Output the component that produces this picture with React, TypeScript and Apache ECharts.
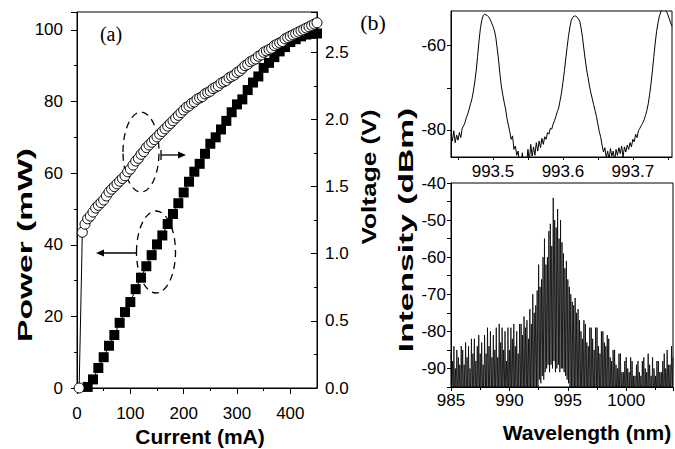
import React, { useEffect, useRef } from "react";
import * as echarts from "echarts";

// ---------- (a) L-I-V data ----------
const ivCurrent = [4, 10, 15, 20, 25, 30, 35, 40, 45, 50, 55, 60, 65, 70, 75, 80, 85, 90, 95, 100, 105,
  110, 115, 120, 125, 130, 135, 140, 145, 150, 155, 160, 165, 170, 175, 180, 185, 190, 195, 200, 205,
  210, 215, 220, 225, 230, 235, 240, 245, 250, 255, 260, 265, 270, 275, 280, 285, 290, 295, 300, 305,
  310, 315, 320, 325, 330, 335, 340, 345, 350, 355, 360, 365, 370, 375, 380, 385, 390, 395, 400, 405,
  410, 415, 420, 425, 430, 435, 440, 445, 450];
const ivVoltage = [0, 1.16, 1.22, 1.26, 1.28, 1.31, 1.34, 1.36, 1.38, 1.40, 1.43, 1.46, 1.48, 1.50, 1.52,
  1.54, 1.56, 1.58, 1.61, 1.63, 1.66, 1.69, 1.71, 1.74, 1.76, 1.79, 1.81, 1.83, 1.85, 1.87, 1.89,
  1.91, 1.93, 1.95, 1.97, 1.99, 2.01, 2.03, 2.05, 2.07, 2.09, 2.10, 2.12, 2.13, 2.15, 2.16, 2.17,
  2.19, 2.20, 2.21, 2.23, 2.24, 2.25, 2.27, 2.28, 2.29, 2.31, 2.32, 2.33, 2.35, 2.36, 2.38, 2.40,
  2.41, 2.43, 2.44, 2.45, 2.47, 2.48, 2.50, 2.51, 2.52, 2.53, 2.55, 2.56, 2.57, 2.58, 2.60, 2.61,
  2.62, 2.63, 2.64, 2.65, 2.66, 2.67, 2.68, 2.69, 2.70, 2.71, 2.72];

const liCurrent = [20, 30, 40, 50, 60, 70, 80, 90, 100, 110, 120, 130, 140, 150, 160, 170, 180, 190, 200,
  210, 220, 230, 240, 250, 260, 270, 280, 290, 300, 310, 320, 330, 340, 350, 360, 370, 380, 390, 400,
  410, 420, 430, 440, 450];
const liPower = [0.3, 2.4, 5.6, 8.6, 11.8, 14.8, 18.2, 21.2, 24.0, 27.6, 30.8, 34.0, 37.1, 40.1, 42.6,
  45.8, 48.6, 51.6, 54.6, 57.6, 60.4, 62.6, 65.4, 68.2, 70.0, 72.2, 74.6, 77.0, 79.2, 80.6, 83.2,
  85.3, 87.0, 89.4, 90.8, 92.4, 94.0, 95.2, 96.6, 97.4, 98.2, 98.7, 98.9, 99.0];

const powerTicks = [0, 20, 40, 60, 80, 100];
const voltageTicks = [0, 0.5, 1.0, 1.5, 2.0, 2.5];
const currentTicks = [0, 100, 200, 300, 400];

// ---------- (b) inset spectrum (0.002 nm sampling from 993.44 nm) ----------
const insetStart = 993.44;
const insetStep = 0.002;
const insetIntensity = [
  -81.0, -82.6, -80.2, -83.0, -81.2, -82.4, -80.6, -81.8, -79.6, -79.0,
  -78.2, -77.0, -76.2, -75.0, -73.8, -72.6, -70.8, -68.6, -66.0, -62.6,
  -59.0, -56.0, -54.0, -52.9, -52.6, -52.7, -52.9, -53.2, -53.8, -54.6,
  -55.4, -56.4, -58.0, -60.6, -63.4, -66.8, -69.6, -71.6, -73.4, -75.0,
  -77.2, -78.8, -80.4, -82.2, -81.4, -84.6, -83.8, -86.0, -85.0, -88.0,
  -89.0, -85.4, -88.5, -89.0, -88.0, -84.6, -87.5, -83.4, -86.2, -84.0,
  -86.0, -83.0, -85.0, -82.6, -84.2, -82.0, -83.4, -81.6, -82.2, -80.6,
  -81.0, -79.6, -79.8, -78.6, -77.8, -76.8, -75.6, -74.8, -73.0, -71.2,
  -68.8, -66.2, -63.2, -60.4, -57.8, -55.6, -54.0, -53.3, -53.0, -53.0,
  -53.2, -53.6, -54.2, -55.8, -58.0, -60.8, -63.4, -65.8, -67.6, -69.6,
  -71.2, -72.6, -74.0, -75.4, -76.8, -78.6, -80.4, -81.6, -83.6, -85.2,
  -84.2, -86.6, -85.0, -87.0, -84.4, -86.2, -85.0, -87.4, -84.6, -86.0,
  -84.2, -85.6, -83.8, -86.4, -84.0, -85.2, -83.6, -84.6, -83.0, -84.0,
  -82.2, -82.8, -81.0, -81.8, -80.2, -79.6, -79.0, -78.4, -77.6, -76.6,
  -75.4, -73.8, -71.6, -69.0, -66.0, -62.6, -59.4, -56.6, -54.6, -53.0,
  -52.0, -51.5, -51.3, -51.4, -51.9, -52.6, -53.6, -54.6, -55.4];
const insetLabelValues = [993.5, 993.6, 993.7];
const insetTickValues = [993.45, 993.5, 993.55, 993.6, 993.65, 993.7, 993.75];

// ---------- (b) full spectrum (0.0625 nm sampling from 985 nm; one row per nm) ----------
const specStart = 985;
const specStep = 0.0625;
const specIntensity = [
  -86, -99, -88, -98, -84, -99, -90, -97, -85, -99, -87, -98, -89, -99, -84, -98, // 985
  -85, -99, -89, -97, -83, -99, -87, -98, -84, -99, -90, -98, -82, -99, -86, -97, // 986
  -82, -99, -88, -98, -84, -99, -81, -97, -86, -99, -83, -98, -89, -99, -81, -97, // 987
  -86, -98, -79, -99, -84, -97, -80, -99, -87, -98, -81, -99, -85, -97, -79, -98, // 988
  -87, -98, -78, -99, -83, -98, -79, -99, -85, -97, -80, -99, -88, -98, -79, -99, // 989
  -85, -99, -79, -98, -82, -99, -78, -97, -84, -98, -80, -99, -86, -97, -78, -98, // 990
  -78, -98, -81, -99, -76, -97, -79, -98, -77, -99, -82, -97, -74, -98, -78, -97, // 991
  -70, -96, -75, -97, -73, -95, -69, -96, -62, -93, -68, -94, -66, -92, -60, -93, // 992
  -55, -91, -62, -90, -60, -89, -53, -91, -51, -89, -57, -90, -44, -88, -50, -91, // 993
  -52, -90, -47, -89, -55, -91, -50, -90, -56, -90, -59, -91, -63, -92, -61, -93, // 994
  -66, -94, -68, -95, -70, -97, -72, -96, -73, -99, -71, -98, -75, -98, -74, -99, // 995
  -77, -99, -80, -98, -82, -97, -77, -99, -78, -99, -83, -98, -84, -98, -79, -99, // 996
  -79, -99, -82, -98, -85, -99, -79, -98, -79, -99, -84, -97, -86, -99, -80, -98, // 997
  -80, -99, -83, -98, -84, -99, -81, -97, -82, -99, -87, -98, -88, -99, -85, -97, // 998
  -85, -99, -89, -98, -90, -99, -86, -97, -86, -99, -91, -98, -91, -99, -88, -97, // 999
  -87, -99, -90, -98, -91, -99, -87, -97, -88, -99, -92, -98, -92, -99, -89, -97, // 1000
  -88, -99, -91, -98, -92, -99, -88, -97, -87, -99, -90, -98, -91, -99, -86, -97, // 1001
  -89, -99, -92, -98, -87, -99, -90, -97, -92, -99, -88, -98, -88, -99, -91, -97, // 1002
  -91, -99, -88, -98, -86, -99, -90, -97, -85, -99, -89, -98, -89, -99, -84, -97, // 1003
  -87];
const specLabelValues = [-90, -80, -70, -60, -50, -40];
const wavelengthTicks = [985, 990, 995, 1000];

const FONT = '"Liberation Sans", Arial, Helvetica, sans-serif';
const SERIF = '"Liberation Serif", "Times New Roman", serif';

const label = (extra: any = {}) => ({
  color: "#000",
  fontFamily: FONT,
  fontSize: 17,
  ...extra,
});
const line = { show: true, lineStyle: { color: "#000", width: 1 } };

function buildOption() {
  const ivData = ivCurrent.map((c, i) => [c, ivVoltage[i]]);
  const liData = liCurrent.map((c, i) => [c, liPower[i]]);
  const insetData = insetIntensity.map((v, i) => [insetStart + i * insetStep, v]);
  const specData = specIntensity.map((v, i) => [specStart + i * specStep, v]);

  const text = (t: string, x: number, y: number, font: string, extra: any = {}) => ({
    type: "text",
    x,
    y,
    silent: true,
    ...extra,
    style: {
      text: t,
      font,
      fill: "#000",
      align: "center",
      verticalAlign: "middle",
      textAlign: "center",
      textVerticalAlign: "middle",
    },
  });

  const stroke = { stroke: "#000", lineWidth: 1.3 };

  return {
    animation: false,
    backgroundColor: "#fff",
    grid: [
      { left: 77, top: 12, width: 240, height: 376, show: true, borderColor: "#000", borderWidth: 1, backgroundColor: "transparent" },
      { left: 451, top: 11, width: 221, height: 146, show: true, borderColor: "#000", borderWidth: 1, backgroundColor: "transparent" },
      { left: 451, top: 183, width: 222, height: 204, show: true, borderColor: "#000", borderWidth: 1, backgroundColor: "transparent" },
    ],
    xAxis: [
      {
        type: "value", gridIndex: 0, min: 0, max: 450, interval: 100,
        axisLine: line,
        axisTick: { show: true, length: 6, lineStyle: { color: "#000" }, customValues: currentTicks },
        minorTick: { show: true, splitNumber: 2, length: 3, lineStyle: { color: "#000" } },
        axisLabel: label({ margin: 17, customValues: currentTicks }),
        splitLine: { show: false },
      },
      {
        type: "value", gridIndex: 1, min: 993.44, max: 993.756,
        axisLine: line,
        axisTick: { show: true, length: 3, lineStyle: { color: "#000" }, customValues: insetTickValues },
        axisLabel: label({ margin: 6, customValues: insetLabelValues, formatter: (v: number) => v.toFixed(1) }),
        splitLine: { show: false },
      },
      {
        type: "value", gridIndex: 2, min: 985, max: 1004, interval: 5,
        axisLine: line,
        axisTick: { show: true, length: 4, lineStyle: { color: "#000" } },
        minorTick: { show: true, splitNumber: 2, length: 3, lineStyle: { color: "#000" } },
        axisLabel: label({ margin: 5, customValues: wavelengthTicks, formatter: (v: number) => String(v) }),
        splitLine: { show: false },
      },
    ],
    yAxis: [
      {
        type: "value", gridIndex: 0, min: 0, max: 105, interval: 20, position: "left",
        axisLine: line,
        axisTick: { show: true, length: 6, lineStyle: { color: "#000" } },
        minorTick: { show: true, splitNumber: 2, length: 3, lineStyle: { color: "#000" } },
        axisLabel: label({ margin: 14, customValues: powerTicks }),
        splitLine: { show: false },
      },
      {
        type: "value", gridIndex: 0, min: 0, max: 2.8, interval: 0.5, position: "right",
        axisLine: line,
        axisTick: { show: true, inside: true, length: 6, lineStyle: { color: "#000" } },
        minorTick: { show: true, splitNumber: 2, length: 3, lineStyle: { color: "#000" } },
        axisLabel: label({ margin: 8, customValues: voltageTicks, formatter: (v: number) => v.toFixed(1) }),
        splitLine: { show: false },
      },
      {
        type: "value", gridIndex: 1, min: -86.4, max: -51.8,
        axisLine: line,
        axisTick: { show: true, length: 4, lineStyle: { color: "#000" }, customValues: [-80, -70, -60] },
        axisLabel: label({ margin: 5, customValues: [-80, -60] }),
        splitLine: { show: false },
      },
      {
        type: "value", gridIndex: 2, min: -95, max: -40, interval: 5,
        axisLine: line,
        axisTick: { show: true, length: 4, lineStyle: { color: "#000" } },
        axisLabel: label({ margin: 5, customValues: specLabelValues }),
        splitLine: { show: false },
      },
    ],
    series: [
      {
        type: "line", xAxisIndex: 0, yAxisIndex: 0, data: liData,
        symbol: "rect", symbolSize: 10, showAllSymbol: true,
        itemStyle: { color: "#000" }, lineStyle: { color: "#000", width: 1 },
        silent: true, z: 2,
      },
      {
        type: "line", xAxisIndex: 0, yAxisIndex: 1, data: ivData,
        symbol: "circle", symbolSize: 10, showAllSymbol: true,
        itemStyle: { color: "#fff", borderColor: "#000", borderWidth: 1 },
        lineStyle: { color: "#000", width: 1 },
        silent: true, z: 3,
      },
      {
        type: "line", xAxisIndex: 1, yAxisIndex: 2, data: insetData,
        showSymbol: false, lineStyle: { color: "#000", width: 1 }, silent: true,
      },
      {
        type: "line", xAxisIndex: 2, yAxisIndex: 3, data: specData,
        showSymbol: false, lineStyle: { color: "#000", width: 0.8 }, silent: true,
      },
    ],
    graphic: [
      { type: "ellipse", silent: true, shape: { cx: 141, cy: 152, rx: 18, ry: 40 }, style: { fill: "none", ...stroke, lineDash: [7, 5] } },
      { type: "ellipse", silent: true, shape: { cx: 156, cy: 252, rx: 19.5, ry: 41 }, style: { fill: "none", ...stroke, lineDash: [7, 5] } },
      { type: "line", silent: true, shape: { x1: 161, y1: 155, x2: 179, y2: 155 }, style: stroke },
      { type: "line", silent: true, shape: { x1: 161, y1: 150, x2: 161, y2: 160 }, style: stroke },
      { type: "polygon", silent: true, shape: { points: [[186, 155], [178, 151.5], [178, 158.5]] }, style: { fill: "#000" } },
      { type: "line", silent: true, shape: { x1: 137, y1: 253, x2: 104, y2: 253 }, style: stroke },
      { type: "polygon", silent: true, shape: { points: [[96, 253], [104, 249.5], [104, 256.5]] }, style: { fill: "#000" } },
      text("(a)", 111, 34, `20px ${SERIF}`),
      text("(b)", 373, 22, `22px ${SERIF}`),
      text("Current (mA)", 200, 436, `bold 21px ${FONT}`),
      text("Wavelength (nm)", 587, 432, `bold 21px ${FONT}`),
      text("Power (mW)", 25, 245, `bold 21px ${FONT}`, { rotation: Math.PI / 2, scaleX: 1.6 }),
      text("Voltage (V)", 368, 177, `bold 21px ${FONT}`, { rotation: Math.PI / 2, scaleX: 1.25 }),
      text("Intensity (dBm)", 406, 230, `bold 21px ${FONT}`, { rotation: Math.PI / 2, scaleX: 1.6 }),
    ],
  };
}

export default function App() {
  const ref = useRef<HTMLDivElement>(null);
  useEffect(() => {
    if (!ref.current) return;
    const chart = echarts.init(ref.current, null, { renderer: "svg" });
    chart.setOption(buildOption() as any);
    return () => chart.dispose();
  }, []);
  return (
    <div
      ref={ref}
      style={{ position: "absolute", left: 0, top: 0, width: 675, height: 449, background: "#fff" }}
    />
  );
}
